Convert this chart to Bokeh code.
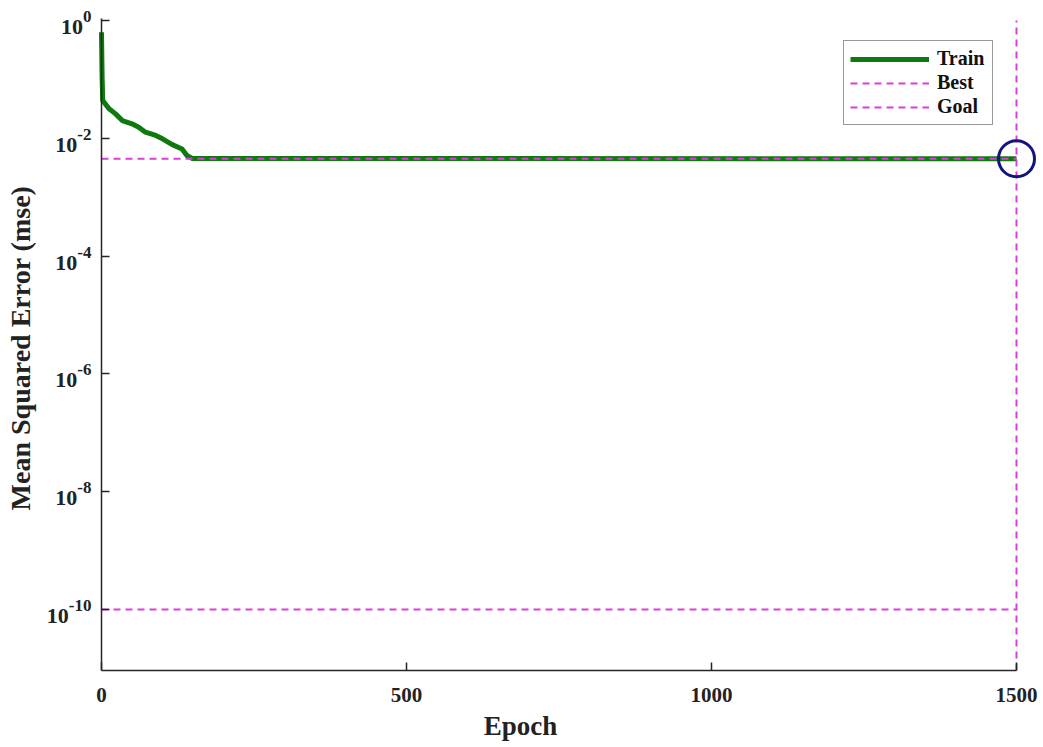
import numpy as np
from bokeh.plotting import figure
from bokeh.models import (Range1d, FixedTicker, Label, Legend, LegendItem,
                          CustomJSTickFormatter)
from bokeh.embed import file_html
from bokeh.resources import INLINE

# ---------------- data ----------------
train_epochs = [0, 1, 2, 12, 23, 34, 50, 61, 72, 89, 100, 116, 132, 140, 149, 1500]
train_mse = [0.63, 0.11, 0.044, 0.032, 0.026, 0.020, 0.0176, 0.0154, 0.0127,
             0.0112, 0.0098, 0.0078, 0.0066, 0.0051, 0.00455, 0.00450]
best_epoch = 1500
best_mse = 0.00450
goal_mse = 1e-10
last_epoch = 1500
x_ticks = [0, 500, 1000, 1500]
y_tick_exponents = [0, -2, -4, -6, -8, -10]
legend_labels = ["Train", "Best", "Goal"]
x_label = "Epoch"
y_label = "Mean Squared Error  (mse)"

# ---------------- style / layout ----------------
FONT = "Liberation Serif"
GREEN = "#0e7a0e"
MAGENTA = "#d93fd9"
NAVY = "#14147f"
AXIS = "#262626"
TXT = "#222222"

W, H = 1040, 745
AX_LEFT, AX_TOP, AX_BOTTOM = 101, 20, 670      # axes box in page pixels
px_per_epoch = 915 / 1500.0
px_per_decade = 58.9
x_start = -AX_LEFT / px_per_epoch
x_end = (W - AX_LEFT) / px_per_epoch
y_low = 10 ** (-(AX_BOTTOM - AX_TOP) / px_per_decade)
y_high = 10 ** (AX_TOP / px_per_decade)
y_top = 10.0 ** max(y_tick_exponents)

p = figure(width=W, height=H, output_backend="svg", toolbar_location=None,
           y_axis_type="log",
           x_range=Range1d(x_start, x_end), y_range=Range1d(y_low, y_high),
           min_border_left=0, min_border_right=0,
           min_border_top=0, min_border_bottom=H - AX_BOTTOM)
p.outline_line_color = None
p.xgrid.grid_line_color = None
p.ygrid.grid_line_color = None
p.background_fill_color = "white"
p.border_fill_color = "white"

for ax in (p.xaxis[0], p.yaxis[0]):
    ax.axis_line_color = AXIS
    ax.axis_line_width = 1.5
    ax.major_tick_line_color = AXIS
    ax.major_tick_line_width = 1.5
    ax.major_tick_in = 8
    ax.major_tick_out = 0
    ax.minor_tick_line_color = None
    ax.major_label_text_font = FONT
    ax.major_label_text_font_style = "bold"
    ax.major_label_text_color = TXT
    ax.axis_label_text_font = FONT
    ax.axis_label_text_font_style = "bold"
    ax.axis_label_text_color = TXT

p.xaxis.ticker = FixedTicker(ticks=x_ticks)
p.xaxis.bounds = (0, last_epoch)
p.xaxis.major_label_text_font_size = "21px"
p.xaxis.major_label_standoff = 17
p.xaxis.axis_label = x_label
p.xaxis.axis_label_text_font_size = "27px"
p.xaxis.axis_label_standoff = 6

p.yaxis.fixed_location = 0
p.yaxis.bounds = (y_low, y_top * 1.08)
p.yaxis.ticker = FixedTicker(ticks=[10.0 ** e for e in y_tick_exponents])
p.yaxis.formatter = CustomJSTickFormatter(code="return ''")
p.yaxis.major_label_standoff = 0
p.yaxis.axis_label = y_label
p.yaxis.axis_label_text_font_size = "28px"
p.yaxis.axis_label_standoff = 66

# y tick labels: "10" with a raised exponent
for e in y_tick_exponents:
    s = str(e)
    w = sum(0.333 if c == "-" else 0.5 for c in s) * 17
    p.add_layout(Label(x=0, y=10.0 ** e, text=s, text_align="left",
                       text_baseline="alphabetic", x_offset=-10 - w, y_offset=4,
                       text_font=FONT, text_font_style="bold",
                       text_font_size="17px", text_color=TXT))
    p.add_layout(Label(x=0, y=10.0 ** e, text="10", text_align="right",
                       text_baseline="alphabetic", x_offset=-10 - w, y_offset=-6.5,
                       text_font=FONT, text_font_style="bold",
                       text_font_size="22px", text_color=TXT))

# glyphs
r_train = p.line(train_epochs, train_mse, line_color=GREEN, line_width=5,
                 line_join="round")
r_best = p.line([0, best_epoch], [best_mse, best_mse], line_color=MAGENTA,
                line_width=2, line_dash="7 5")
p.line([best_epoch, best_epoch], [y_low, y_top], line_color=MAGENTA,
       line_width=2, line_dash="7 5")
r_goal = p.line([0, last_epoch], [goal_mse, goal_mse], line_color=MAGENTA,
                line_width=2, line_dash="7 5")
p.scatter([best_epoch], [best_mse], marker="circle", size=36, fill_color=None,
          line_color=NAVY, line_width=3)

legend = Legend(items=[LegendItem(label=legend_labels[0], renderers=[r_train]),
                       LegendItem(label=legend_labels[1], renderers=[r_best]),
                       LegendItem(label=legend_labels[2], renderers=[r_goal])],
                location=(843, 545))
legend.margin = 0
legend.padding = 6
legend.spacing = 1
legend.glyph_width = 79
legend.glyph_height = 20
legend.label_height = 20
legend.label_width = 49
legend.label_standoff = 8
legend.label_text_font = FONT
legend.label_text_font_style = "bold"
legend.label_text_font_size = "20px"
legend.label_text_color = "#111111"
legend.border_line_color = "#333333"
legend.border_line_width = 1.5
legend.background_fill_alpha = 1.0
p.add_layout(legend)

open("out.html", "w").write(file_html(p, INLINE))
